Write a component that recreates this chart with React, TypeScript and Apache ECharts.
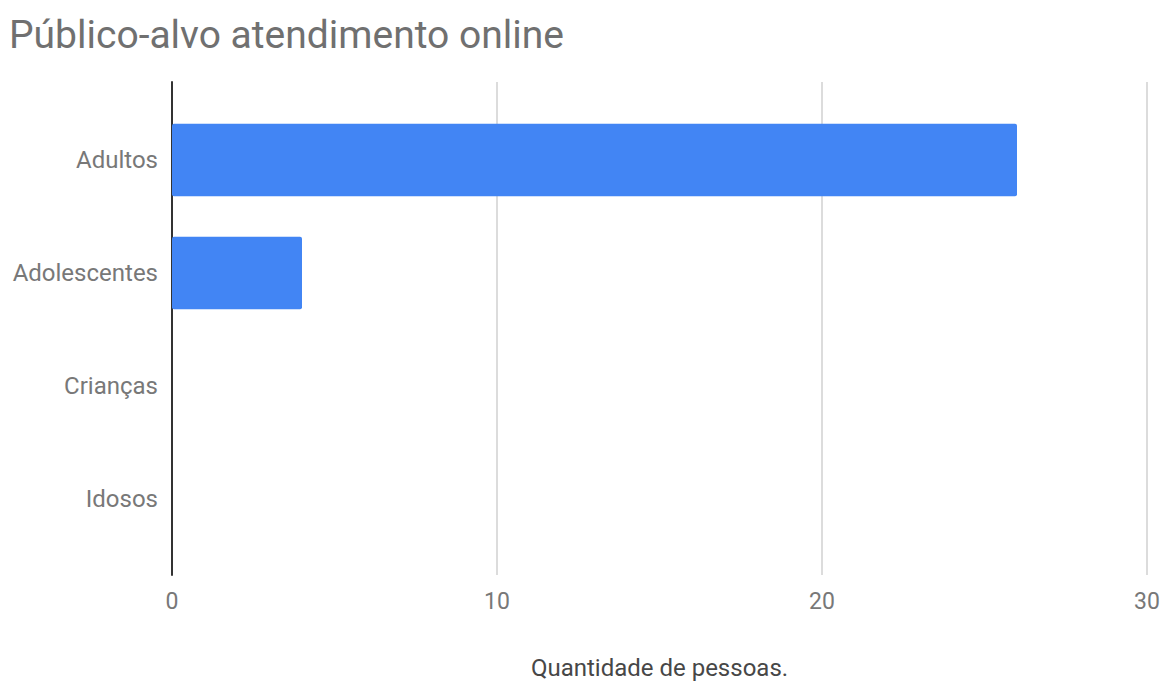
import React, { useEffect, useRef } from "react";
import * as echarts from "echarts";

const categories = ["Adultos", "Adolescentes", "Crianças", "Idosos"];
const values = [26, 4, 0, 0];
const xMin = 0;
const xMax = 30;
const xInterval = 10;
const titleText = "Público-alvo atendimento online";
const xAxisName = "Quantidade de pessoas.";

export default function App() {
  const ref = useRef<HTMLDivElement>(null);
  useEffect(() => {
    if (!ref.current) return;
    const chart = echarts.init(ref.current, undefined, { renderer: "svg" });
    const font = "Roboto, 'Noto Sans', sans-serif";
    chart.setOption({
      animation: false,
      backgroundColor: "#ffffff",
      textStyle: { fontFamily: font },
      title: {
        text: titleText,
        left: 9,
        top: 15,
        padding: 0,
        textStyle: { fontSize: 39, fontWeight: "normal", color: "#707070", fontFamily: font },
      },
      grid: [
        { left: 172, right: 16, top: 82, height: 493, outerBoundsMode: "none", containLabel: false },
        { left: 172, right: 16, top: 103.5, height: 452, outerBoundsMode: "none", containLabel: false },
      ],
      xAxis: [
        {
          gridIndex: 0,
          type: "value",
          min: xMin,
          max: xMax,
          interval: xInterval,
          axisLine: { show: false },
          axisTick: { show: false },
          axisLabel: { color: "#787878", fontSize: 23, margin: 15, fontFamily: font },
          splitLine: { lineStyle: { color: "#d0d0d0", width: 1.5 } },
          name: xAxisName,
          nameLocation: "middle",
          nameGap: 93,
          nameTextStyle: { color: "#474747", fontSize: 24, fontFamily: font, verticalAlign: "middle" },
        },
        {
          gridIndex: 1,
          type: "value",
          min: xMin,
          max: xMax,
          interval: xInterval,
          show: false,
        },
      ],
      yAxis: [
        {
          gridIndex: 0,
          type: "value",
          min: 0,
          max: 1,
          axisLine: { show: true, lineStyle: { color: "#333333", width: 2 } },
          axisTick: { show: false },
          axisLabel: { show: false },
          splitLine: { show: false },
        },
        {
          gridIndex: 1,
          type: "category",
          inverse: true,
          data: categories,
          axisLine: { show: false },
          axisTick: { show: false },
          axisLabel: { color: "#787878", fontSize: 24, margin: 14, fontFamily: font },
          splitLine: { show: false },
        },
      ],
      series: [
        {
          type: "bar",
          xAxisIndex: 1,
          yAxisIndex: 1,
          data: values,
          barWidth: "64%",
          itemStyle: { color: "#4285f4", borderRadius: 2 },
          z: 5,
        },
      ],
    });
    return () => chart.dispose();
  }, []);
  return (
    <div
      ref={ref}
      style={{ position: "absolute", left: 0, top: 0, width: 1163, height: 684 }}
    />
  );
}
